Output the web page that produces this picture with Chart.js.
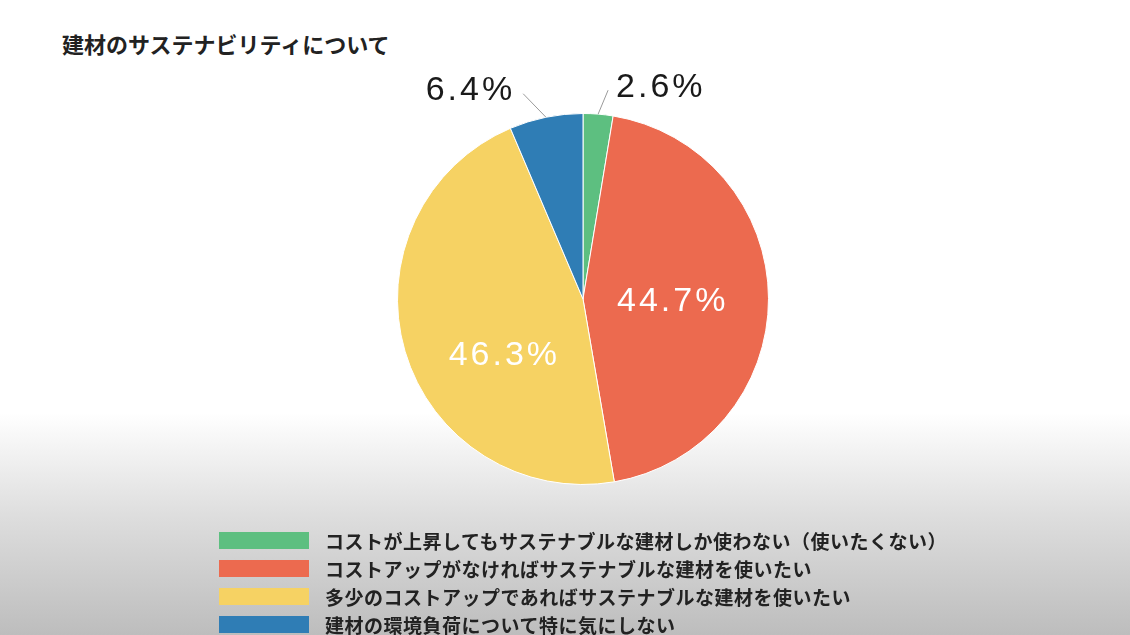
<!DOCTYPE html>
<html lang="ja">
<head>
<meta charset="utf-8">
<script src="https://cdn.jsdelivr.net/npm/chart.js@4"></script>
<style>
  html, body { margin: 0; padding: 0; }
  body {
    width: 1130px; height: 635px; overflow: hidden; position: relative;
    background: linear-gradient(to bottom, #ffffff 0%, #ffffff 65%, #dedede 81%, #bdbdbd 100%);
    font-family: "Noto Sans CJK JP", "Noto Sans", sans-serif;
  }
  #title {
    position: absolute; left: 62px; top: 29px;
    font-size: 22px; font-weight: bold; color: #222; line-height: 28px;
  }
  #chart-wrap { position: absolute; left: 333px; top: 49px; width: 500px; height: 500px; }
  #legend { position: absolute; left: 219px; top: 526px; }
  .leg-row { display: flex; align-items: center; height: 28px; }
  .leg-box { width: 90px; height: 17px; margin-right: 16px; }
  .leg-text { font-size: 19px; font-weight: bold; color: #222; white-space: nowrap; letter-spacing: 0.5px; }
</style>
</head>
<body>
<div id="title">建材のサステナビリティについて</div>
<div id="chart-wrap"><canvas id="sustain-pie" width="500" height="500"></canvas></div>
<div id="legend"></div>
<script>
const categories = [
    'コストが上昇してもサステナブルな建材しか使わない（使いたくない）',
    'コストアップがなければサステナブルな建材を使いたい',
    '多少のコストアップであればサステナブルな建材を使いたい',
    '建材の環境負荷について特に気にしない'
];
const shares = [2.6, 44.7, 46.3, 6.4];
const sliceColors = ['#5dbf80', '#ec6a4f', '#f6d263', '#2f7db5'];

// percentage labels: big slices inside (white), small slices outside with a leader line
const pctLabels = {
    id: 'pctLabels',
    afterDatasetsDraw(chart, args, opts) {
        const ctx = chart.ctx;
        const meta = chart.getDatasetMeta(0);
        ctx.save();
        ctx.font = '34px "Liberation Sans", Arial, sans-serif';
        ctx.letterSpacing = '3px';
        ctx.textBaseline = 'middle';
        meta.data.forEach((arc, i) => {
            const text = shares[i].toFixed(1) + '%';
            const cx = arc.x, cy = arc.y, r = arc.outerRadius;
            let mid = (arc.startAngle + arc.endAngle) / 2;
            if (shares[i] >= 10) {
                mid += (opts.nudge[i] || 0) * Math.PI / 180;
                const rr = r * 0.5;
                ctx.fillStyle = '#ffffff';
                ctx.textAlign = 'center';
                ctx.fillText(text, cx + rr * Math.cos(mid) - 3, cy + rr * Math.sin(mid) + 3);
            } else {
                const dx = Math.cos(mid), dy = Math.sin(mid);
                const side = dx >= 0 ? 1 : -1;
                const push = side > 0 ? 8 : 18;
                const sx = cx + r * dx, sy = cy + r * dy;
                const ex = sx + 24 * dx + push * side, ey = sy + 24 * dy;
                ctx.strokeStyle = '#9a9a9a';
                ctx.lineWidth = 1;
                ctx.beginPath();
                ctx.moveTo(sx, sy);
                ctx.lineTo(ex, ey);
                ctx.stroke();
                ctx.fillStyle = '#1a1a1a';
                ctx.textAlign = side > 0 ? 'left' : 'right';
                ctx.fillText(text, ex + 8 * side, ey - 3);
            }
        });
        ctx.restore();
    }
};

const ctx = document.getElementById('sustain-pie').getContext('2d');
const chart = new Chart(ctx, {
    type: 'pie',
    data: {
        labels: categories,
        datasets: [{
            data: shares,
            backgroundColor: sliceColors,
            borderColor: '#ffffff',
            borderWidth: 1
        }]
    },
    options: {
        responsive: false,
        animation: false,
        layout: { padding: 64 },
        plugins: {
            legend: { display: false },
            tooltip: { enabled: false },
            pctLabels: { nudge: { 2: -19 } }
        }
    },
    plugins: [pctLabels]
});

// legend built from the chart's own labels/colours, one item per row
const legendEl = document.getElementById('legend');
chart.data.labels.forEach((label, i) => {
    const row = document.createElement('div');
    row.className = 'leg-row';
    row.innerHTML = '<div class="leg-box" style="background:' + sliceColors[i] + '"></div>' +
        '<div class="leg-text">' + label + '</div>';
    legendEl.appendChild(row);
});
</script>
</body>
</html>
